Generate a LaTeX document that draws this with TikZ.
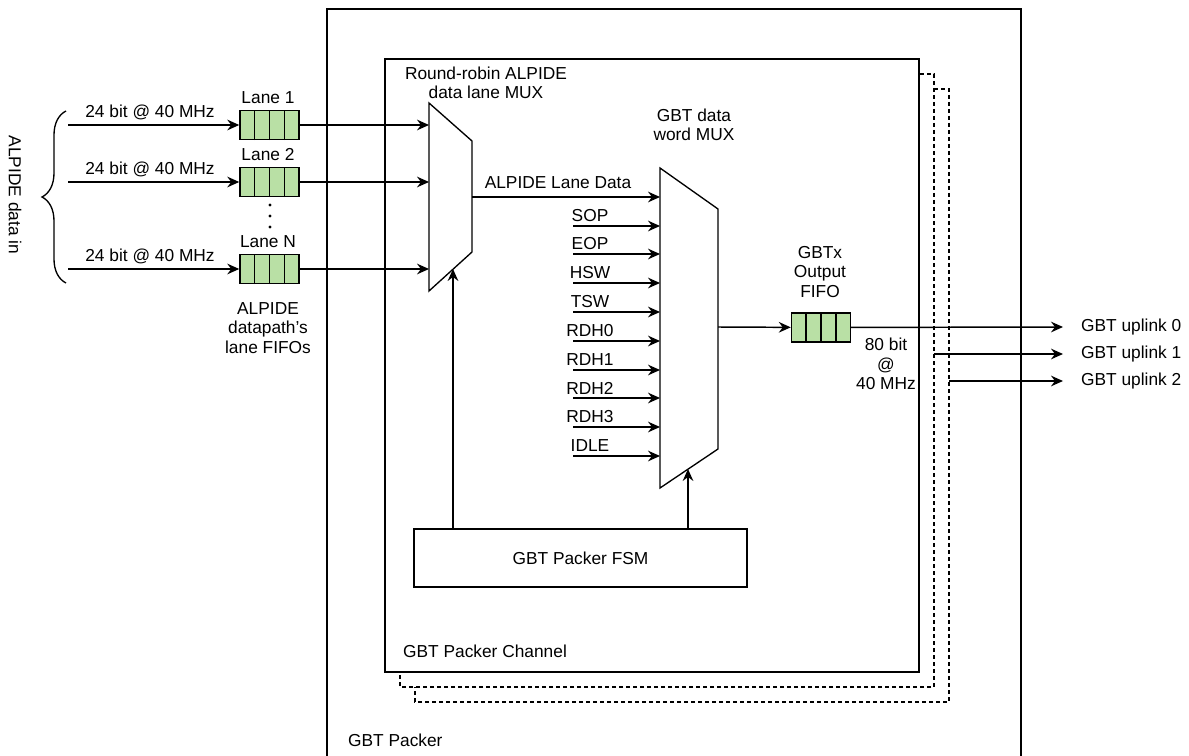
\documentclass[tikz,border=0pt]{standalone}
\usepackage{fontspec}
\setmainfont{Liberation Sans}
\usetikzlibrary{arrows.meta,decorations.pathreplacing,calc,positioning}
\definecolor{fifogreen}{HTML}{B9E0A5}
\tikzset{
  every node/.style={font=\fontsize{13}{14.6}\selectfont},
  wire/.style={line width=1.1pt,-{Stealth[length=9pt,width=8pt,inset=3pt]}},
  fifo/.style={draw,line width=1.1pt,fill=fifogreen,minimum width=44.25pt,minimum height=21.75pt,inner sep=0pt},
  copybox/.style={line width=0.8pt,dash pattern=on 3pt off 2.25pt},
}
\begin{document}
\begin{tikzpicture}[x=0.75pt,y=-0.75pt,line width=1pt]
    \clip (0,0) rectangle (1189,756);
    %outer packer and the channel with its copies
    \draw (327,9) rectangle (1021,780);
    \node[anchor=west] (packerlbl) at (343,740) {GBT Packer};
    \draw[copybox] (920,74) -| (934,687) -| (400,673);
    \draw[copybox] (934,89) -| (949,702) -| (415,687);
    \draw (385,59) rectangle (919,672);
    \node[anchor=west] (chanlbl) at (398,651) {GBT Packer Channel};

    %input lanes
    \draw[decorate,decoration={brace,amplitude=18pt}] (66,283) -- (66,111);
    \node[rotate=-90] (datain) at (15,195) {ALPIDE data in};
    \foreach \y/\n/\lab in {125/1/Lane 1,182/2/Lane 2,269/N/Lane N}{
        \coordinate (src\n) at (68,\y);
        \coordinate (mux1in\n) at (429,\y);
        \node[fifo] (fifo\n) at (269.5,\y) {};
        \foreach \k in {1,2,3}
            \draw[line width=1.1pt] ($(fifo\n.south west)!\k/4!(fifo\n.south east)$) -- ($(fifo\n.north west)!\k/4!(fifo\n.north east)$);
        \node (lane\n) at (268,\y-27) {\lab};
        \node (rate\n) at (150,\y-13) {24 bit @ 40 MHz};
        \draw[wire] (src\n) -- (fifo\n);
        \draw[wire] (fifo\n) -- (mux1in\n);
    }
    \foreach \y in {205,216,227}
        \fill (270,\y) circle (1.6);
    \node[align=center] (fifolbl) at (268,328) {ALPIDE\\datapath's\\lane FIFOs};

    %round-robin mux
    \draw (429,103) -- (472,141) -- (472,252) -- (429,291) -- cycle;
    \node[align=center] (mux1lbl) at (486,83) {Round-robin ALPIDE\\data lane MUX};
    \coordinate (mux1out) at (472,197);
    \coordinate (ctl1) at (453,269);

    %data word mux
    \draw (660,168) -- (718,209) -- (718,449) -- (660,488) -- cycle;
    \node[align=center] (mux2lbl) at (694,125) {GBT data\\word MUX};
    \coordinate (mux2in) at (660,197);
    \coordinate (mux2out) at (718,327);
    \coordinate (ctl2) at (688,469);
    \draw[wire] (mux1out) -- (mux2in);
    \node (lanedata) at (558,183) {ALPIDE Lane Data};
    \foreach \y/\t in {226/SOP,254/EOP,283/HSW,312/TSW,341/RDH0,370/RDH1,398/RDH2,427/RDH3,456/IDLE}{
        \coordinate (w\t) at (573,\y);
        \draw[wire] (w\t) -- (660,\y);
        \node (l\t) at (590,\y-10) {\t};
    }

    %fsm
    \node[draw,minimum width=249.75pt,minimum height=43.5pt] (fsm) at (580.5,558) {GBT Packer FSM};
    \draw[wire] (fsm.north -| ctl1) -- (ctl1);
    \draw[wire] (fsm.north -| ctl2) -- (ctl2);

    %output fifo and uplinks
    \node[fifo] (fifoout) at (821,327.5) {};
    \foreach \k in {1,2,3}
        \draw[line width=1.1pt] ($(fifoout.south west)!\k/4!(fifoout.south east)$) -- ($(fifoout.north west)!\k/4!(fifoout.north east)$);
    \node[align=center] (fifooutlbl) at (820,272) {GBTx\\Output\\FIFO};
    \draw[wire] (mux2out) -- (fifoout);
    \coordinate (up0) at (1063,327);
    \coordinate (up1s) at (934,354);
    \coordinate (up1) at (1063,354);
    \coordinate (up2s) at (949,381);
    \coordinate (up2) at (1063,381);
    \draw[wire] (fifoout) -- (up0);
    \draw[wire] (up1s) -- (up1);
    \draw[wire] (up2s) -- (up2);
    \node[anchor=west] (link0) at (1076,327) {GBT uplink 0};
    \node[anchor=west] (link1) at (1076,354) {GBT uplink 1};
    \node[anchor=west] (link2) at (1076,381) {GBT uplink 2};
    \node[align=center] (speed) at (886,364) {80 bit\\@\\40 MHz};
\end{tikzpicture}
\end{document}
